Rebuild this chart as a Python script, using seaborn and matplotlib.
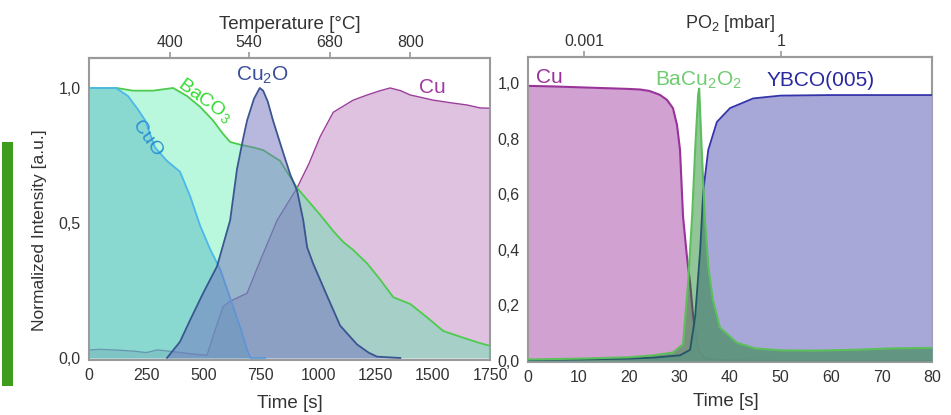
import numpy as np
import pandas as pd
import matplotlib
matplotlib.use("Agg")
import matplotlib.pyplot as plt
from matplotlib.patches import Rectangle
from matplotlib.ticker import MultipleLocator, FixedLocator
import seaborn as sns

# ---------------- data: annealing ramp (left) ----------------
cuo_t = [0, 60, 118, 170, 214, 245, 288, 340, 397, 441, 485, 530, 572, 629, 665, 690, 705, 770]
cuo_v = [1.0, 1.0, 1.0, 0.97, 0.92, 0.88, 0.78, 0.73, 0.69, 0.60, 0.49, 0.40, 0.33, 0.19, 0.10, 0.03, 0.0, 0.0]

baco3_t = [0, 60, 120, 192, 280, 367, 428, 485, 541, 585, 616, 660, 716, 760, 834, 908, 1009, 1066,
           1109, 1153, 1214, 1271, 1328, 1402, 1476, 1546, 1633, 1707, 1750]
baco3_v = [1.0, 1.0, 1.0, 0.99, 0.99, 1.0, 0.97, 0.93, 0.88, 0.83, 0.80, 0.79, 0.78, 0.77, 0.73, 0.63, 0.53, 0.47,
           0.43, 0.40, 0.35, 0.29, 0.225, 0.20, 0.15, 0.10, 0.075, 0.055, 0.045]

cu2o_t = [340, 397, 441, 498, 559, 616, 646, 672, 690, 720, 745, 760, 780, 803, 840, 878, 908, 935, 952,
          978, 1039, 1096, 1170, 1220, 1257, 1360]
cu2o_v = [0.0, 0.06, 0.14, 0.24, 0.34, 0.51, 0.70, 0.81, 0.88, 0.96, 1.0, 0.99, 0.95, 0.88, 0.78, 0.68, 0.62, 0.51, 0.41,
          0.35, 0.23, 0.12, 0.05, 0.02, 0.005, 0.0]

cu_t = [0, 50, 100, 150, 200, 250, 300, 350, 400, 450, 515, 541, 585, 616, 640, 690, 747, 821, 908, 960,
        1009, 1066, 1153, 1214, 1271, 1314, 1360, 1402, 1450, 1502, 1580, 1650, 1707, 1750]
cu_v = [0.03, 0.032, 0.03, 0.028, 0.025, 0.02, 0.03, 0.025, 0.02, 0.015, 0.01, 0.08, 0.19, 0.21, 0.22, 0.24, 0.36, 0.51, 0.63, 0.72,
        0.82, 0.91, 0.955, 0.974, 0.99, 1.0, 0.99, 0.974, 0.965, 0.955, 0.945, 0.937, 0.926, 0.925]

temp_tick_times = [354, 699, 1052, 1402]
temp_tick_labels = ["400", "540", "680", "800"]

# ---------------- data: oxygen pulse (right) ----------------
r_cu_t = [0, 5, 10, 15, 20, 22.2, 24, 26.1, 27.5, 28.7, 29.5, 30.1, 30.7, 31.5, 32.1, 32.7, 33.5, 34, 35, 37, 40, 50, 60, 70, 80]
r_cu_v = [0.99, 0.988, 0.985, 0.982, 0.979, 0.977, 0.972, 0.958, 0.94, 0.91, 0.85, 0.76, 0.52, 0.37, 0.28, 0.16, 0.065, 0.03,
          0.01, 0.004, 0.002, 0.0, 0.0, 0.0, 0.0]

r_bco_t = [0, 10, 20, 24.8, 28.7, 30.7, 31.7, 32.5, 33.1, 33.7, 33.9, 34.4, 35.0, 35.7, 36.6, 38, 41.4, 45, 50, 56.5, 65, 72, 80]
r_bco_v = [0.005, 0.008, 0.013, 0.02, 0.03, 0.06, 0.28, 0.52, 0.76, 0.96, 0.98, 0.76, 0.52, 0.34, 0.22, 0.12, 0.065, 0.045,
           0.038, 0.037, 0.04, 0.045, 0.047]

r_ybco_t = [0, 10, 20, 25, 30.1, 32.1, 33.1, 34.1, 34.7, 35.7, 37.4, 40, 44.6, 50, 60, 70, 80]
r_ybco_v = [0.003, 0.005, 0.008, 0.012, 0.02, 0.04, 0.16, 0.40, 0.61, 0.76, 0.86, 0.91, 0.945, 0.955, 0.957, 0.957, 0.957]

po2_tick_times = [11.1, 50.1]
po2_tick_labels = ["0.001", "1"]

# ---------------- style ----------------
sns.set_theme(style="white")
plt.rcParams["font.family"] = ["Liberation Sans", "DejaVu Sans"]
plt.rcParams["mathtext.fontset"] = "custom"
plt.rcParams["mathtext.rm"] = "Liberation Sans"
plt.rcParams["mathtext.it"] = "Liberation Sans:italic"
plt.rcParams["mathtext.default"] = "regular"

SPINE = "#9a9a9a"
TXT = "#333333"

fig = plt.figure(figsize=(9.51, 4.15), dpi=100)
axL = fig.add_axes([89 / 951, 55 / 415, 401 / 951, 302 / 415])
axR = fig.add_axes([528 / 951, 53 / 415, 404 / 951, 305 / 415])


def curve(ax, t, v, line, fill, alpha, lw=1.3, z=2):
    df = pd.DataFrame({"t": t, "v": v})
    ax.fill_between(df["t"], 0, df["v"], color=fill, alpha=alpha, linewidth=0, zorder=z)
    sns.lineplot(data=df, x="t", y="v", ax=ax, color=line, linewidth=lw, sort=False,
                 estimator=None, zorder=z + 0.5)


# left panel
curve(axL, cu_t, cu_v, "#9b3d9b", "#ba78ba", 0.45, lw=1.0, z=2)
curve(axL, baco3_t, baco3_v, "#4ccc4c", "#30eb98", 0.33, lw=1.3, z=3)
curve(axL, cuo_t, cuo_v, "#4cb8ea", "#5abcc6", 0.5, lw=1.3, z=4)
curve(axL, cu2o_t, cu2o_v, "#3a5590", "#7373bf", 0.5, lw=1.3, z=5)

axL.set_xlim(0, 1750)
axL.set_ylim(-0.0074, 1.111)
axL.xaxis.set_major_locator(MultipleLocator(250))
axL.xaxis.set_minor_locator(MultipleLocator(125))
axL.set_yticks([0.0, 0.5, 1.0], labels=["0,0", "0,5", "1,0"])
axL.yaxis.set_minor_locator(FixedLocator([0.25, 0.75]))
axL.set_xlabel("Time [s]", fontsize=13.5, color=TXT)
axL.set_ylabel("Normalized Intensity [a.u.]", fontsize=12.5, color=TXT)
axL.xaxis.set_label_coords(0.5, -0.115)
axL.yaxis.set_label_coords(-0.105, 0.43)

secL = axL.secondary_xaxis("top")
secL.set_xticks(temp_tick_times, labels=temp_tick_labels)
secL.set_xlabel("Temperature [°C]", fontsize=13.5, color=TXT, labelpad=4)

axL.text(506, 0.955, "BaCO$_3$", color="#33dd33", fontsize=14, rotation=-36,
         ha="center", va="center", zorder=10)
axL.text(255, 0.81, "CuO", color="#2a90d0", fontsize=14, rotation=-55,
         ha="center", va="center", zorder=10)
axL.text(755, 1.045, "Cu$_2$O", color="#3a4f9a", fontsize=15, ha="center", va="center", zorder=10)
axL.text(1498, 1.0, "Cu", color="#a03aa0", fontsize=15, ha="center", va="center", zorder=10)

# right panel
curve(axR, r_cu_t, r_cu_v, "#993399", "#cf9ccf", 0.95, lw=1.5, z=2)
curve(axR, r_ybco_t, r_ybco_v, "#3333aa", "#a4a4d6", 0.95, lw=1.3, z=3)
curve(axR, r_bco_t, r_bco_v, "#5cbf5c", "#0d8019", 0.45, lw=1.5, z=4)

axR.set_xlim(0, 80)
axR.set_ylim(-0.004, 1.094)
axR.xaxis.set_major_locator(MultipleLocator(10))
axR.xaxis.set_minor_locator(MultipleLocator(5))
yt = [0.0, 0.2, 0.4, 0.6, 0.8, 1.0]
axR.set_yticks(yt, labels=[f"{v:.1f}".replace(".", ",") for v in yt])
axR.yaxis.set_minor_locator(MultipleLocator(0.1))
axR.set_xlabel("Time [s]", fontsize=13.5, color=TXT)
axR.xaxis.set_label_coords(0.49, -0.10)
axR.set_ylabel("")

secR = axR.secondary_xaxis("top")
secR.set_xticks(po2_tick_times, labels=po2_tick_labels)
secR.set_xlabel("PO$_2$ [mbar]", fontsize=13, color=TXT, labelpad=4)

axR.text(1.6, 1.02, "Cu", color="#9b309b", fontsize=15, ha="left", va="center", zorder=10)
axR.text(33.7, 1.01, "BaCu$_2$O$_2$", color="#70cc70", fontsize=15, ha="center", va="center", zorder=10)
axR.text(58, 1.01, "YBCO(005)", color="#2828a0", fontsize=15, ha="center", va="center", zorder=10)

for ax in (axL, axR, secL, secR):
    for sp in ax.spines.values():
        sp.set_color(SPINE)
        sp.set_linewidth(1.5)
    ax.tick_params(which="both", direction="out", color=SPINE, labelsize=11.5, labelcolor=TXT, pad=2)
    ax.tick_params(which="major", length=4, width=1.2)
    ax.tick_params(which="minor", length=2.5, width=1.0)
for ax in (axL, axR):
    ax.grid(False)
    ax.set_facecolor("white")

fig.add_artist(Rectangle((2 / 951, 29 / 415), 11 / 951, 244 / 415, transform=fig.transFigure,
                         color="#3f9c1c", linewidth=0))

fig.savefig("out.png", dpi=100)
